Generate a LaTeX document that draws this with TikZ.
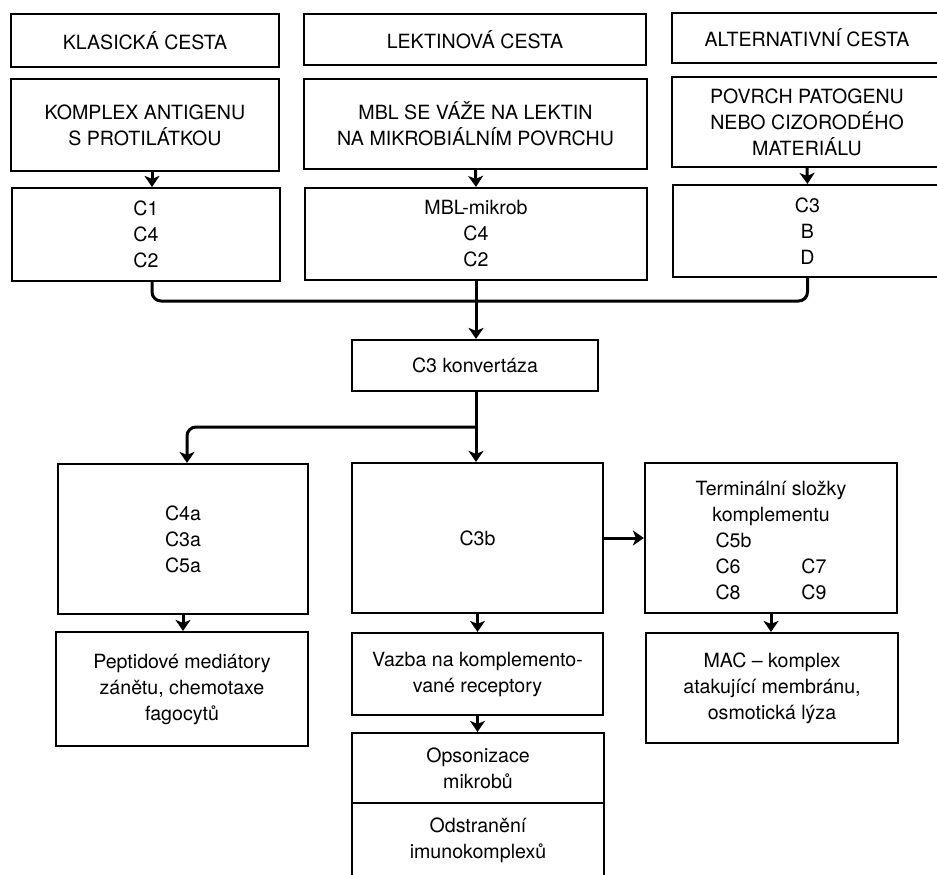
\documentclass[tikz,border=0pt]{standalone}
\usepackage{fontspec}
\setmainfont{TeX Gyre Heros}
\usetikzlibrary{arrows.meta}
\newcommand\fsz{\fontsize{19.6pt}{26pt}\selectfont}
\begin{document}
\begin{tikzpicture}[x=1pt,y=-1pt,
  box/.style={draw, line width=2.2pt, align=center, font=\fsz, inner sep=0pt},
  conn/.style={line width=3pt},
  arr/.style={conn, -{Stealth[length=11pt,width=15pt,inset=3pt]}}]
\useasboundingbox (0,0) rectangle (937,875);
\clip (0,0) rectangle (937,875);
\fill[white] (0,0) rectangle (937,875);

% top row
\node[box, minimum width=268pt, minimum height=53pt] (kl) at (145,40.5) {KLASICKÁ CESTA};
\node[box, minimum width=342pt, minimum height=51pt] (le) at (475,39.5) {LEKTINOVÁ CESTA};
\node[box, minimum width=270pt, minimum height=50pt] (al) at (807,38) {ALTERNATIVNÍ CESTA};

% second row
\node[box, minimum width=268pt, minimum height=92pt] (klA) at (145,125) {KOMPLEX ANTIGENU\\S PROTILÁTKOU};
\node[box, minimum width=343pt, minimum height=90pt] (leA) at (475.5,124) {MBL SE VÁŽE NA LEKTIN\\NA MIKROBIÁLNÍM POVRCHU};
\node[box, minimum width=270pt, minimum height=90pt] (alA) at (807,122) {POVRCH PATOGENU\\NEBO CIZORODÉHO\\MATERIÁLU};

% third row
\node[box, minimum width=268pt, minimum height=93pt] (klB) at (146,234.5) {C1\\C4\\C2};
\node[box, minimum width=342pt, minimum height=92pt] (leB) at (476,234) {MBL-mikrob\\C4\\C2};
\node[box, minimum width=269pt, minimum height=92pt] (alB) at (807.5,231) {C3\\B\\D};

% convertase
\node[box, minimum width=246pt, minimum height=51pt] (conv) at (475,365.5) {C3 konvertáza};

% middle row
\node[box, minimum width=250pt, minimum height=150pt] (c4a) at (183,539) {C4a\\C3a\\C5a};
\node[box, minimum width=251pt, minimum height=150pt] (c3b) at (477.5,538) {C3b};
\node[box, minimum width=252pt, minimum height=150pt] (term) at (771,538)
  {\rule{0pt}{27pt}Terminální složky\\komplementu\\
   \begin{tabular}[t]{@{}l@{\hspace{50pt}}l@{}}C5b&\\C6&C7\\C8&C9\end{tabular}};

% bottom rows
\node[box, minimum width=252pt, minimum height=114pt] (pep) at (182,689) {Peptidové mediátory\\zánětu, chemotaxe\\fagocytů};
\node[box, minimum width=251pt, minimum height=82pt] (vaz) at (477.5,674) {Vazba na komplemento-\\vané receptory};
\node[box, minimum width=252pt, minimum height=70pt] (ops) at (478,768) {Opsonizace\\mikrobů};
\node[box, minimum width=252pt, minimum height=75pt] (ods) at (478,840.5) {Odstranění\\imunokomplexů};
\node[box, minimum width=252pt, minimum height=110pt] (mac) at (772,688) {MAC -- komplex\\atakující membránu,\\osmotická lýza};

% junction coordinates
\coordinate (mj) at (476,301);
\coordinate (br) at (476,427);

% arrows in top part
\draw[arr] ([xshift=7pt]klA.south) -- ([xshift=6pt]klB.north);
\draw[arr] (leA.south) -- (leB.north);
\draw[arr] (alA.south) -- (alB.north);

% merge
\draw[conn, rounded corners=9pt] ([xshift=6pt]klB.south) |- (mj);
\draw[conn, rounded corners=9pt] (alB.south) |- (mj);
\draw[arr] (leB.south) -- (leB.south |- conv.north);

% from convertase
\draw[arr] (conv.south -| br) -- (br |- c3b.north);
\draw[arr, rounded corners=9pt] (br) -| ([xshift=4pt]c4a.north);
\draw[arr] (c3b.east) -- (term.west);

% down arrows
\draw[arr] (c4a.south) -- (c4a.south |- pep.north);
\draw[arr] (c3b.south) -- (c3b.south |- vaz.north);
\draw[arr] (vaz.south) -- (vaz.south |- ops.north);
\draw[arr] (term.south) -- (term.south |- mac.north);
\end{tikzpicture}
\end{document}
